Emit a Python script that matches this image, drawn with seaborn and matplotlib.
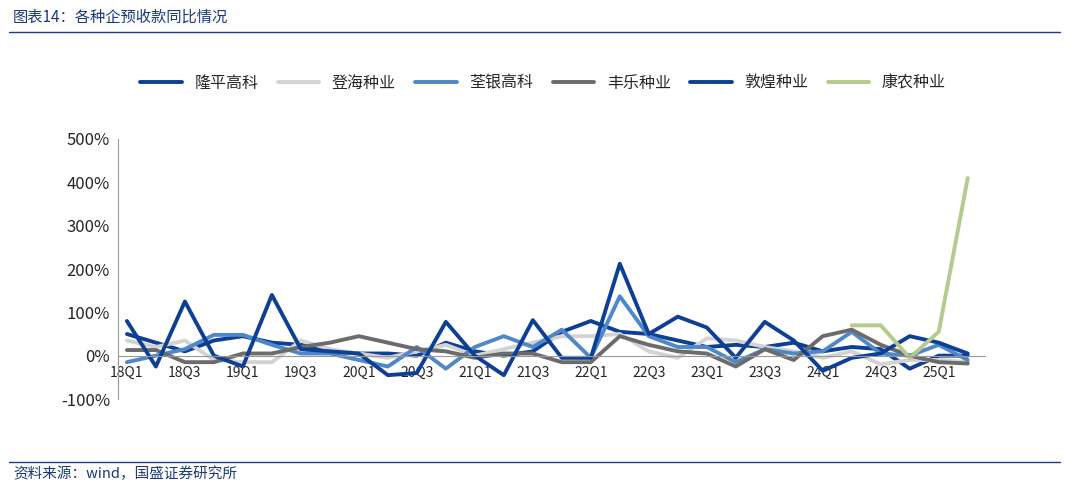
import numpy as np
import pandas as pd
import seaborn as sns
import matplotlib
matplotlib.use("Agg")
import matplotlib.pyplot as plt

sns.set_style("white")
plt.rcParams['font.family'] = ['Noto Sans CJK SC', 'DejaVu Sans']

quarters = [f"{y}Q{q}" for y in range(18, 26) for q in range(1, 5)][:30]
series_names = ["隆平高科", "登海种业", "荃银高科", "丰乐种业", "敦煌种业", "康农种业"]
longping = [50, 30, 10, 35, 45, 30, 25, 10, 5, 5, 0, 30, 10, 0, 10, 55, 80, 55, 50, 35, 20, 25, 20, 30, 10, 20, 15, -30, 0, 0]
denghai = [35, 20, 35, -10, -15, -15, 35, 15, 5, -5, 10, 25, 0, 15, 30, 45, 45, 50, 10, -5, 40, 35, 20, 10, -5, 10, -20, -10, -10, -15]
quanyin = [-15, 0, 15, 48, 48, 25, 5, 5, -10, -25, 20, -30, 20, 45, 20, 60, -5, 137, 45, 20, 20, -15, 15, 5, 10, 55, 5, 0, 25, -10]
fengle = [13, 13, -15, -15, 5, 5, 20, 30, 45, 30, 15, 10, -5, 5, 5, -15, -15, 45, 25, 10, 5, -25, 15, -10, 45, 60, 25, 0, -15, -18]
dunhuang = [80, -25, 125, 0, -25, 140, 15, 10, 5, -45, -40, 78, 0, -45, 82, -5, -5, 212, 50, 90, 65, -5, 78, 35, -35, -5, 5, 45, 30, 5]
kangnong = [np.nan] * 25 + [70, 70, -5, 55, 410]
colors = ["#0d3f96", "#d3d3d3", "#4f88c9", "#6b6b6b", "#0d3f96", "#b3cb8d"]

data = [longping, denghai, quanyin, fengle, dunhuang, kangnong]
df = pd.DataFrame({n: v for n, v in zip(series_names, data)})
df["idx"] = np.arange(len(quarters))
long = df.melt(id_vars="idx", var_name="公司", value_name="值")

fig = plt.figure(figsize=(10.65, 4.86), dpi=100)
ax = fig.add_axes([0.111, 0.179, 0.814, 0.535])
sns.lineplot(data=long, x="idx", y="值", hue="公司", palette=dict(zip(series_names, colors)),
             linewidth=2.8, ax=ax, legend=True)
ax.set_xlim(-0.3, 29.6)
ax.set_ylim(-100, 500)
ax.set_yticks(range(-100, 501, 100))
ax.set_yticklabels([f"{v}%" for v in range(-100, 501, 100)], fontsize=12)
ax.set_xticks(range(30))
ax.set_xticklabels([q if i % 2 == 0 else "" for i, q in enumerate(quarters)], fontsize=11.5)
ax.tick_params(axis='x', length=4, color='#999999', pad=3, direction='out')
ax.tick_params(axis='y', length=0, pad=6)
for s in ["top", "right"]:
    ax.spines[s].set_visible(False)
ax.spines["bottom"].set_position(("data", 0))
ax.spines["bottom"].set_color("#999999")
ax.spines["left"].set_color("#999999")
ax.set_xlabel("")
ax.set_ylabel("")
h, l = ax.get_legend_handles_labels()
ax.legend(h, l, loc="center", bbox_to_anchor=(0.51, (486 - 83) / 486), bbox_transform=fig.transFigure,
          ncol=6, frameon=False, fontsize=11.5, handlelength=2.6, columnspacing=1.2)

fig.text(0.012, 0.965, "图表14：各种企预收款同比情况", fontsize=11, style="italic", color="#1a3a7a", va="center")
fig.add_artist(plt.Line2D([0.008, 0.995], [0.935, 0.935], color="#1a3a8a", lw=1))
fig.add_artist(plt.Line2D([0.008, 0.995], [0.05, 0.05], color="#1a3a8a", lw=1))
fig.text(0.012, 0.025, "资料来源：wind，国盛证券研究所", fontsize=10.5, style="italic", color="#1a3a7a", va="center")
fig.savefig("out.png", dpi=100)
